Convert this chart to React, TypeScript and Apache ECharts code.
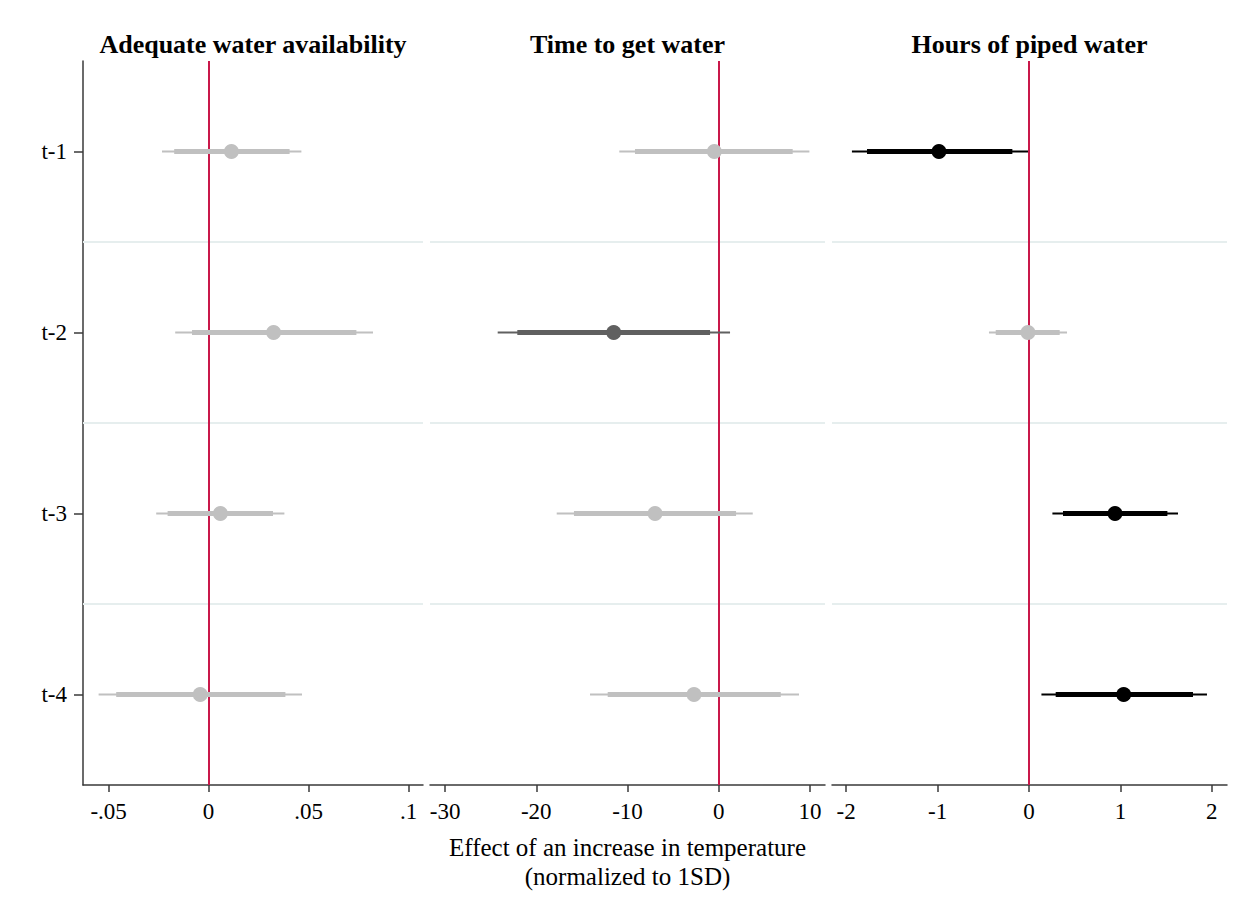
import React, { useEffect, useRef } from "react";
import * as echarts from "echarts";

const periods = ["t-1", "t-2", "t-3", "t-4"];
const periodPos = [1, 2, 3, 4];

const panelTitles = ["Adequate water availability", "Time to get water", "Hours of piped water"];

// Panel 1: Adequate water availability
const waterEst = [0.0114, 0.0325, 0.0059, -0.0042];
const waterLo90 = [-0.0172, -0.0083, -0.0205, -0.0462];
const waterHi90 = [0.0405, 0.0739, 0.0322, 0.0384];
const waterLo95 = [-0.0233, -0.0167, -0.0262, -0.055];
const waterHi95 = [0.0464, 0.0822, 0.0379, 0.0467];
const waterSig = ["ns", "ns", "ns", "ns"];

// Panel 2: Time to get water
const timeEst = [-0.48, -11.51, -6.98, -2.71];
const timeLo90 = [-9.18, -22.08, -15.87, -12.17];
const timeHi90 = [8.11, -0.95, 1.9, 6.8];
const timeLo95 = [-10.9, -24.23, -17.76, -14.11];
const timeHi95 = [9.94, 1.24, 3.73, 8.8];
const timeSig = ["ns", "p10", "ns", "ns"];

// Panel 3: Hours of piped water
const hoursEst = [-0.985, -0.011, 0.941, 1.036];
const hoursLo90 = [-1.772, -0.364, 0.372, 0.292];
const hoursHi90 = [-0.182, 0.336, 1.514, 1.794];
const hoursLo95 = [-1.937, -0.438, 0.256, 0.136];
const hoursHi95 = [-0.011, 0.416, 1.63, 1.947];
const hoursSig = ["p05", "ns", "p05", "p05"];

const xTicks1 = [-0.05, 0, 0.05, 0.1];
const xTicks2 = [-30, -20, -10, 0, 10];
const xTicks3 = [-2, -1, 0, 1, 2];

const separators = [1.5, 2.5, 3.5];

const sigColor: Record<string, string> = { ns: "#c0c0c0", p10: "#606060", p05: "#000000" };

const FONT = "'Liberation Serif', 'Times New Roman', serif";

function stataFmt(v: number): string {
  if (v === 0) return "0";
  const s = String(Math.round(v * 1000) / 1000);
  return s.replace(/^(-?)0\./, "$1.");
}

export default function App() {
  const ref = useRef<HTMLDivElement>(null);
  useEffect(() => {
    if (!ref.current) return;
    const chart = echarts.init(ref.current, undefined, { renderer: "svg" });

    const panels = [
      { est: waterEst, lo90: waterLo90, hi90: waterHi90, lo95: waterLo95, hi95: waterHi95, sig: waterSig, min: -0.0628, max: 0.1072, ticks: xTicks1 },
      { est: timeEst, lo90: timeLo90, hi90: timeHi90, lo95: timeLo95, hi95: timeHi95, sig: timeSig, min: -31.65, max: 11.65, ticks: xTicks2 },
      { est: hoursEst, lo90: hoursLo90, hi90: hoursHi90, lo95: hoursLo95, hi95: hoursHi95, sig: hoursSig, min: -2.155, max: 2.166, ticks: xTicks3 },
    ];
    const gridLefts = [83, 430, 832];
    const gridWidths = [340, 395, 395];
    const top = 61;
    const height = 724;

    const grids = panels.map((_, i) => ({ left: gridLefts[i], top, width: gridWidths[i], height, containLabel: false }));

    const xAxes = panels.map((p, i) => ({
      type: "value",
      gridIndex: i,
      min: p.min,
      max: p.max,
      splitLine: { show: false },
      axisLine: { show: true, lineStyle: { color: "#3a3a3a", width: 1.5 } },
      axisTick: { show: true, customValues: p.ticks, length: 7, lineStyle: { color: "#3a3a3a", width: 1.5 } },
      axisLabel: {
        customValues: p.ticks,
        formatter: (v: number) => stataFmt(v),
        color: "#000",
        fontFamily: FONT,
        fontSize: 23,
        margin: 15,
      },
    }));

    const yAxes = panels.map((_, i) => ({
      type: "value",
      gridIndex: i,
      min: 0.5,
      max: 4.5,
      inverse: true,
      splitLine: { show: false },
      axisLine: { show: i === 0, onZero: false, lineStyle: { color: "#3a3a3a", width: 1.5 } },
      axisTick: { show: i === 0, customValues: periodPos, length: 9, lineStyle: { color: "#3a3a3a", width: 1.5 } },
      axisLabel: {
        show: i === 0,
        customValues: periodPos,
        formatter: (v: number) => periods[periodPos.indexOf(v)] ?? "",
        color: "#000",
        fontFamily: FONT,
        fontSize: 23,
        margin: 16,
      },
    }));

    const series: any[] = [];
    panels.forEach((p, i) => {
      series.push({
        type: "scatter",
        xAxisIndex: i,
        yAxisIndex: i,
        symbolSize: 0,
        silent: true,
        z: 1,
        data: p.est.map((v, k) => [v, periodPos[k]]),
        markLine: {
          silent: true,
          symbol: "none",
          label: { show: false },
          data: [
            ...separators.map((s) => ({ yAxis: s, lineStyle: { color: "#e6eeee", width: 2, type: "solid" } })),
            { xAxis: 0, lineStyle: { color: "#c9184a", width: 2, type: "solid" } },
          ],
        },
      });
      series.push({
        type: "custom",
        xAxisIndex: i,
        yAxisIndex: i,
        z: 5,
        data: p.est.map((v, k) => [v, periodPos[k], p.lo90[k], p.hi90[k], p.lo95[k], p.hi95[k]]),
        renderItem: (params: any, api: any) => {
          const y = api.value(1);
          const c = api.coord([api.value(0), y]);
          const l90 = api.coord([api.value(2), y]);
          const h90 = api.coord([api.value(3), y]);
          const l95 = api.coord([api.value(4), y]);
          const h95 = api.coord([api.value(5), y]);
          const color = sigColor[p.sig[params.dataIndex]];
          return {
            type: "group",
            children: [
              { type: "line", shape: { x1: l95[0], y1: c[1], x2: h95[0], y2: c[1] }, style: { stroke: color, lineWidth: 2 } },
              { type: "line", shape: { x1: l90[0], y1: c[1], x2: h90[0], y2: c[1] }, style: { stroke: color, lineWidth: 5 } },
              { type: "circle", shape: { cx: c[0], cy: c[1], r: 7.5 }, style: { fill: color } },
            ],
          };
        },
      });
    });

    const titleCenters = gridLefts.map((l, i) => l + gridWidths[i] / 2);

    chart.setOption({
      animation: false,
      backgroundColor: "#ffffff",
      grid: grids,
      xAxis: xAxes,
      yAxis: yAxes,
      series,
      graphic: [
        ...panelTitles.map((t, i) => ({
          type: "text",
          x: titleCenters[i],
          y: 44,
          style: { text: t, fill: "#000", font: `bold 26px ${FONT}`, textAlign: "center", textVerticalAlign: "middle" },
        })),
        {
          type: "text",
          x: titleCenters[1],
          y: 862,
          style: {
            text: "Effect of an increase in temperature\n(normalized to 1SD)",
            fill: "#000",
            font: `25px ${FONT}`,
            lineHeight: 29,
            textAlign: "center",
            textVerticalAlign: "middle",
          },
        },
      ],
    });
    return () => chart.dispose();
  }, []);
  return <div ref={ref} style={{ position: "fixed", left: 0, top: 0, width: 1250, height: 910 }} />;
}
